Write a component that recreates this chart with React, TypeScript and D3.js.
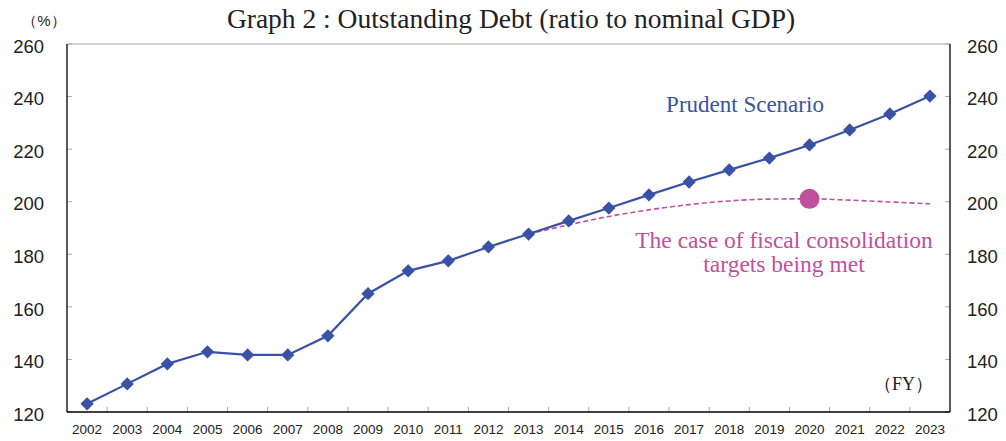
import React from "react";
import * as d3 from "d3";

const years = ["2002","2003","2004","2005","2006","2007","2008","2009","2010","2011","2012","2013","2014","2015","2016","2017","2018","2019","2020","2021","2022","2023"];
const prudent = [123.1,130.7,138.3,142.9,141.7,141.7,149.0,165.0,173.7,177.5,182.8,187.7,192.7,197.6,202.6,207.5,212.1,216.6,221.6,227.3,233.4,240.2];
const targetYears = ["2013","2014","2015","2016","2017","2018","2019","2020","2021","2022","2023"];
const targetValues = [187.7,191.2,194.4,196.9,198.9,200.3,201.0,201.1,200.6,199.9,199.2];
const highlightYear = "2020";
const yTicks = [120,140,160,180,200,220,240,260];

const W = 1006, H = 441;
const L = 67, R = 950, T = 44, B = 412;
const BLUE = "#3A52A5";
const PINK = "#C0509E";

export default function App() {
  const x = d3.scaleBand<string>().domain(years).range([L, R]);
  const cx = (yr: string) => (x(yr) as number) + x.bandwidth() / 2;
  const y = d3.scaleLinear().domain([120, 260]).range([B, T]);

  const lineBlue = d3.line<number>().x((_, i) => cx(years[i])).y(d => y(d));
  const linePink = d3.line<number>().x((_, i) => cx(targetYears[i])).y(d => y(d)).curve(d3.curveMonotoneX);
  const diamond = d3.symbol().type(d3.symbolSquare).size(88)();
  const hi = targetValues[targetYears.indexOf(highlightYear)];

  const sans = "'Liberation Sans', Arial, sans-serif";
  const serif = "'Liberation Serif', 'Times New Roman', serif";

  return (
    <svg width={W} height={H} style={{ position: "absolute", left: 0, top: 0, background: "#fff" }}>
      <text x={511} y={28} textAnchor="middle" fontFamily={serif} fontSize={27.5} fill="#222">Graph 2 : Outstanding Debt (ratio to nominal GDP)</text>
      <text x={44} y={26} textAnchor="middle" fontFamily={sans} fontSize={15} fill="#222">（%）</text>

      {/* top gridline */}
      <line x1={L} x2={R} y1={y(260)} y2={y(260)} stroke="#aaa" strokeWidth={1} />
      {/* y ticks */}
      {yTicks.map(t => (
        <g key={t}>
          <line x1={L} x2={L + 5} y1={y(t)} y2={y(t)} stroke="#aaa" />
          <line x1={R - 5} x2={R} y1={y(t)} y2={y(t)} stroke="#aaa" />
          <text x={44} y={y(t) + 2} dy="0.36em" textAnchor="end" fontFamily={sans} fontSize={18.5} fill="#222">{t}</text>
          <text x={967} y={y(t) + 2} dy="0.36em" textAnchor="start" fontFamily={sans} fontSize={18.5} fill="#222">{t}</text>
        </g>
      ))}
      {/* x ticks */}
      {years.map((yr, i) => (
        <g key={yr}>
          {i > 0 && <line x1={x(yr)} x2={x(yr)} y1={B} y2={B - 5} stroke="#aaa" />}
          <text x={cx(yr)} y={434} textAnchor="middle" fontFamily={sans} fontSize={13.5} fill="#222">{yr}</text>
        </g>
      ))}
      {/* axes */}
      <line x1={L} x2={L} y1={T} y2={B} stroke="#000" strokeWidth={1.3} />
      <line x1={R} x2={R} y1={T} y2={B} stroke="#000" strokeWidth={1.3} />
      <line x1={L} x2={R} y1={B} y2={B} stroke="#000" strokeWidth={1.3} />

      {/* pink dashed */}
      <path d={linePink(targetValues) || ""} fill="none" stroke={PINK} strokeWidth={1.6} strokeDasharray="5,3" />
      <circle cx={cx(highlightYear)} cy={y(hi)} r={10} fill={PINK} />

      {/* blue line */}
      <path d={lineBlue(prudent) || ""} fill="none" stroke={BLUE} strokeWidth={2.2} />
      {prudent.map((v, i) => (
        <path key={i} d={diamond || ""} transform={`translate(${cx(years[i])},${y(v)}) rotate(45)`} fill={BLUE} />
      ))}

      <text x={745} y={112} textAnchor="middle" fontFamily={serif} fontSize={23} fill={BLUE}>Prudent Scenario</text>
      <text x={784} y={248} textAnchor="middle" fontFamily={serif} fontSize={23.5} fill={PINK}>The case of fiscal consolidation</text>
      <text x={784} y={272} textAnchor="middle" fontFamily={serif} fontSize={23.5} fill={PINK}>targets being met</text>
      <text x={933} y={390} textAnchor="end" fontFamily={serif} fontSize={18} fill="#222">（FY）</text>
    </svg>
  );
}
